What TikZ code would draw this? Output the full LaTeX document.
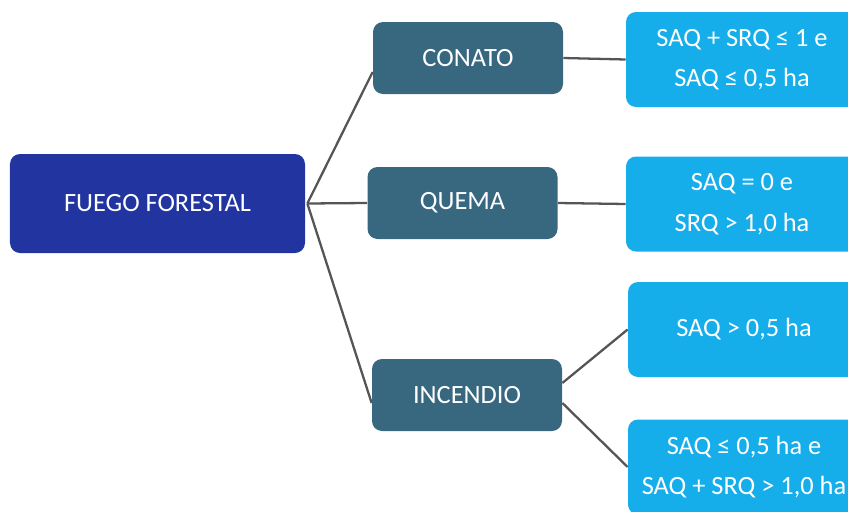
\documentclass[tikz,border=0pt]{standalone}
\usepackage{fontspec}
\setmainfont{Carlito}
\usetikzlibrary{calc,positioning,backgrounds}
\definecolor{fuegoblue}{HTML}{2234A0}
\definecolor{tipoteal}{HTML}{37687F}
\definecolor{critcyan}{HTML}{16AEEA}
\definecolor{linkgray}{HTML}{555555}

\begin{document}
\begin{tikzpicture}[
        root/.style={draw=none, fill=fuegoblue, rounded corners=0.2cm, text=white,
            minimum width=5.9cm, minimum height=1.98cm, font=\fontsize{15}{18}\selectfont},
        tipo/.style={draw=none, fill=tipoteal, rounded corners=0.2cm, text=white,
            minimum width=3.8cm, minimum height=1.44cm, font=\fontsize{15}{18}\selectfont},
        crit/.style={draw=none, fill=critcyan, rounded corners=0.2cm, text=white, align=center,
            minimum width=4.64cm, minimum height=1.9cm, font=\fontsize{15}{23}\selectfont},
        link/.style={draw=linkgray, line width=1.3pt}
    ]
        \useasboundingbox (0,0) rectangle (16.96,-10.24);
        \clip (0,0) rectangle (16.96,-10.24);

        \node[root] (fuego) at (3.15,-4.07) {FUEGO FORESTAL};

        \node[tipo] (conato) at (9.36,-1.16) {CONATO};
        \node[tipo] (quema) at (9.25,-4.06) {QUEMA};
        \node[tipo] (incendio) at (9.34,-7.90) {INCENDIO};

        \node[crit] (c1) at (14.84,-1.19) {SAQ + SRQ ≤ 1 e\\SAQ ≤ 0,5 ha};
        \node[crit] (c2) at (14.84,-4.08) {SAQ = 0 e\\SRQ > 1,0 ha};
        \node[crit] (c3) at (14.88,-6.59) {SAQ > 0,5 ha};
        \node[crit] (c4) at (14.88,-9.34) {SAQ ≤ 0,5 ha e\\SAQ + SRQ > 1,0 ha};

        \coordinate (hub) at ([xshift=0.04cm]fuego.east);

        \begin{scope}[on background layer]
            % ramas del fuego forestal
            \draw[link] (hub) -- ([yshift=-0.28cm]conato.west);
            \draw[link] (hub) -- (quema.west);
            \draw[link] (hub) -- ([yshift=-0.16cm]incendio.west);

            % criterios
            \draw[link] (conato.east) -- (c1.west);
            \draw[link] (quema.east) -- (c2.west);
            \draw[link] ([yshift=0.24cm]incendio.east) -- (c3.west);
            \draw[link] ([yshift=-0.16cm]incendio.east) -- (c4.west);
        \end{scope}
\end{tikzpicture}
\end{document}
